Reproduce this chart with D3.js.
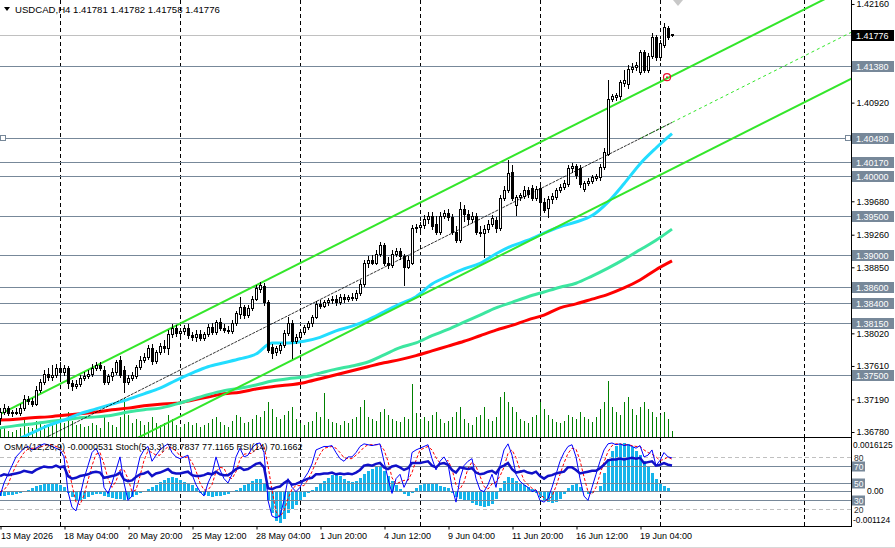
<!DOCTYPE html>
<html>
<head>
<meta charset="utf-8">
<script src="https://cdn.jsdelivr.net/npm/d3@7"></script>
<style>
  body { margin: 0; background: #fff; }
  svg { display: block; font-family: "Liberation Sans", Arial, sans-serif; font-size: 9px; }
</style>
</head>
<body>
<svg id="chart" width="895" height="548"></svg>
<script>
// ---- data ----
const symbol = 'USDCAD,H4';
const lastBar = [1.41781, 1.41782, 1.41758, 1.41776];

// H4 candles [open, high, low, close], first bar = 13 May 2026 12:00
const ohlc = [
  [1.3696,1.3708,1.3688,1.3703],[1.3703,1.3713,1.3701,1.3708],[1.3708,1.3711,1.3699,1.3702],[1.3702,1.3706,1.3698,1.3703],
  [1.3703,1.3708,1.3701,1.3702],[1.3702,1.3713,1.3699,1.3708],[1.3708,1.3725,1.3706,1.3720],[1.3720,1.3723,1.3713,1.3717],
  [1.3717,1.3721,1.3711,1.3713],[1.3713,1.3736,1.3712,1.3731],[1.3731,1.3745,1.3728,1.3741],[1.3741,1.3756,1.3738,1.3751],
  [1.3751,1.3758,1.3743,1.3747],[1.3747,1.3762,1.3743,1.3750],[1.3750,1.3763,1.3747,1.3758],[1.3758,1.3766,1.3746,1.3753],
  [1.3753,1.3762,1.3750,1.3758],[1.3758,1.3761,1.3733,1.3740],[1.3740,1.3743,1.3731,1.3736],[1.3736,1.3743,1.3733,1.3738],
  [1.3738,1.3750,1.3736,1.3746],[1.3746,1.3753,1.3743,1.3748],[1.3748,1.3756,1.3746,1.3751],[1.3751,1.3763,1.3748,1.3758],
  [1.3758,1.3766,1.3756,1.3762],[1.3762,1.3766,1.3756,1.3758],[1.3756,1.3761,1.3738,1.3741],[1.3741,1.3751,1.3738,1.3748],
  [1.3748,1.3758,1.3743,1.3753],[1.3753,1.3768,1.3751,1.3766],[1.3768,1.3774,1.3747,1.3750],[1.3756,1.3761,1.3728,1.3741],
  [1.3741,1.3750,1.3738,1.3746],[1.3746,1.3753,1.3743,1.3750],[1.3748,1.3762,1.3746,1.3760],[1.3760,1.3774,1.3757,1.3768],
  [1.3768,1.3777,1.3766,1.3772],[1.3772,1.3787,1.3770,1.3784],[1.3784,1.3789,1.3763,1.3767],[1.3767,1.3781,1.3765,1.3779],
  [1.3779,1.3790,1.3776,1.3786],[1.3786,1.3794,1.3779,1.3784],[1.3784,1.3806,1.3776,1.3801],[1.3801,1.3814,1.3797,1.3809],
  [1.3809,1.3812,1.3799,1.3802],[1.3802,1.3809,1.3800,1.3805],[1.3805,1.3812,1.3801,1.3809],[1.3809,1.3814,1.3796,1.3800],
  [1.3800,1.3804,1.3794,1.3797],[1.3797,1.3806,1.3792,1.3801],[1.3801,1.3806,1.3794,1.3796],[1.3796,1.3804,1.3794,1.3801],
  [1.3801,1.3814,1.3799,1.3810],[1.3810,1.3815,1.3801,1.3804],[1.3804,1.3819,1.3801,1.3816],[1.3816,1.3821,1.3806,1.3809],
  [1.3809,1.3814,1.3804,1.3806],[1.3806,1.3811,1.3802,1.3805],[1.3805,1.3819,1.3802,1.3815],[1.3815,1.3830,1.3812,1.3828],
  [1.3826,1.3848,1.3821,1.3835],[1.3835,1.3838,1.3821,1.3825],[1.3825,1.3838,1.3823,1.3834],[1.3834,1.3849,1.3831,1.3845],
  [1.3845,1.3863,1.3844,1.3859],[1.3858,1.3867,1.3854,1.3863],[1.3862,1.3865,1.3838,1.3841],[1.3841,1.3844,1.3779,1.3781],
  [1.3785,1.3789,1.3771,1.3777],[1.3779,1.3786,1.3775,1.3784],[1.3781,1.3790,1.3777,1.3787],[1.3787,1.3806,1.3785,1.3802],
  [1.3802,1.3823,1.3800,1.3815],[1.3815,1.3819,1.3771,1.3792],[1.3792,1.3801,1.3790,1.3797],[1.3797,1.3806,1.3795,1.3804],
  [1.3804,1.3812,1.3801,1.3810],[1.3810,1.3817,1.3807,1.3815],[1.3815,1.3825,1.3811,1.3823],[1.3823,1.3843,1.3821,1.3839],
  [1.3839,1.3844,1.3834,1.3836],[1.3836,1.3844,1.3835,1.3841],[1.3841,1.3846,1.3838,1.3844],[1.3844,1.3849,1.3840,1.3845],
  [1.3845,1.3850,1.3838,1.3841],[1.3841,1.3851,1.3839,1.3848],[1.3848,1.3851,1.3841,1.3845],[1.3845,1.3850,1.3843,1.3848],
  [1.3848,1.3853,1.3844,1.3846],[1.3846,1.3856,1.3844,1.3853],[1.3853,1.3869,1.3850,1.3864],[1.3864,1.3894,1.3862,1.3890],
  [1.3890,1.3899,1.3886,1.3894],[1.3894,1.3900,1.3889,1.3891],[1.3891,1.3907,1.3889,1.3902],[1.3902,1.3917,1.3899,1.3913],
  [1.3913,1.3915,1.3888,1.3891],[1.3891,1.3898,1.3884,1.3888],[1.3888,1.3907,1.3885,1.3902],[1.3902,1.3909,1.3899,1.3905],
  [1.3905,1.3909,1.3895,1.3899],[1.3899,1.3902,1.3863,1.3886],[1.3886,1.3899,1.3884,1.3894],[1.3891,1.3938,1.3889,1.3934],
  [1.3934,1.3939,1.3930,1.3936],[1.3936,1.3942,1.3932,1.3938],[1.3938,1.3951,1.3934,1.3946],[1.3946,1.3955,1.3941,1.3950],
  [1.3950,1.3955,1.3933,1.3937],[1.3939,1.3950,1.3927,1.3929],[1.3929,1.3955,1.3927,1.3950],[1.3950,1.3957,1.3947,1.3953],
  [1.3953,1.3958,1.3945,1.3948],[1.3948,1.3952,1.3927,1.3930],[1.3930,1.3937,1.3917,1.3919],[1.3919,1.3967,1.3917,1.3958],
  [1.3958,1.3963,1.3943,1.3952],[1.3952,1.3957,1.3939,1.3946],[1.3946,1.3955,1.3942,1.3950],[1.3950,1.3953,1.3927,1.3930],
  [1.3930,1.3937,1.3924,1.3928],[1.3928,1.3938,1.3898,1.3933],[1.3933,1.3945,1.3929,1.3939],[1.3939,1.3951,1.3937,1.3947],
  [1.3945,1.3948,1.3929,1.3934],[1.3934,1.3976,1.3932,1.3972],[1.3972,1.3987,1.3970,1.3982],[1.3982,1.4020,1.3980,1.4004],
  [1.4005,1.4014,1.3970,1.3972],[1.3963,1.3976,1.3951,1.3973],[1.3973,1.3978,1.3970,1.3976],[1.3975,1.3987,1.3972,1.3982],
  [1.3982,1.3986,1.3973,1.3977],[1.3985,1.3988,1.3970,1.3972],[1.3972,1.3987,1.3970,1.3983],[1.3985,1.3988,1.3951,1.3967],
  [1.3967,1.3972,1.3955,1.3957],[1.3960,1.3975,1.3948,1.3971],[1.3971,1.3978,1.3966,1.3975],[1.3973,1.3985,1.3971,1.3982],
  [1.3982,1.3990,1.3980,1.3986],[1.3986,1.3995,1.3983,1.3991],[1.3990,1.4014,1.3987,1.4010],[1.4010,1.4016,1.4005,1.4012],
  [1.4012,1.4015,1.3997,1.4001],[1.4010,1.4014,1.3986,1.3990],[1.3983,1.3993,1.3981,1.3991],[1.3991,1.3997,1.3988,1.3993],
  [1.3993,1.4001,1.3991,1.3998],[1.3997,1.4002,1.3995,1.4000],[1.3998,1.4015,1.3995,1.4011],[1.4011,1.4035,1.4008,1.4030],
  [1.4028,1.4120,1.4026,1.4097],[1.4097,1.4103,1.4094,1.4100],[1.4099,1.4104,1.4095,1.4102],[1.4100,1.4120,1.4097,1.4118],
  [1.4117,1.4133,1.4113,1.4120],[1.4115,1.4139,1.4110,1.4134],[1.4134,1.4142,1.4131,1.4137],[1.4137,1.4143,1.4133,1.4139],
  [1.4131,1.4158,1.4128,1.4156],[1.4156,1.4158,1.4131,1.4133],[1.4133,1.4154,1.4131,1.4151],[1.4151,1.4180,1.4148,1.4175],
  [1.4175,1.4177,1.4146,1.4149],[1.4149,1.4171,1.4146,1.4167],[1.4164,1.4192,1.4162,1.4187],[1.4186,1.4188,1.4172,1.4175],
  lastBar
];

// tick volume per bar
const volumes = [
  800,1000,600,500,700,900,1800,1000,900,1600, 1400,1200,1000,1200,1500,2200,1400,2500,1600,1200,
  1300,1000,1100,1400,1200,900,2000,1500,1200,1000, 2000,3900,2200,1400,1800,1600,1200,1500,2000,1400,
  1200,1400,2200,1800,1200,1000,1300,1500,1200,1400, 1000,1200,1400,1800,2000,1500,1200,1000,1600,2200,
  2000,1400,1500,1800,2200,2000,2600,3500,2800,2000, 1800,2200,2600,3000,1800,1400,1200,1500,1600,2500,
  2000,4400,1800,1500,1400,1200,1600,1400,1800,2000, 3000,3700,2000,1800,1600,2500,2800,2200,1800,1600,
  1500,2000,1800,5300,2400,1800,2000,1600,2200,2500, 1800,1400,1600,2000,2500,3000,1800,1400,1200,2000,
  2200,3000,1800,1600,2000,4000,4500,3500,3000,2500, 1800,1600,1400,2000,2200,3500,2800,2200,1800,1500,
  1400,1600,2200,2000,1800,2500,2000,1800,1500,2000, 2800,3500,5600,3000,2500,2200,3500,4000,2800,2200,
  3000,3500,2800,2500,2000,2200,2500,1800,600
];

// moving averages, one value every 4 bars (bars 0,4,...,168)
const maStep = 4;
const maFast = [1.3662,1.3668,1.3677,1.3686,1.3693,1.3701,1.3707,1.3713,1.3719,1.3726,1.3733,1.3743,1.3752,1.3760,1.3765,
  1.3770,1.3776,1.3790,1.3790,1.3792,1.3797,1.3805,1.3811,1.3819,1.3829,1.3839,1.3848,1.3864,1.3874,1.3883,1.3890,1.3902,
  1.3912,1.3919,1.3928,1.3936,1.3942,1.3950,1.3967,1.3990,1.4015,1.4035,1.4053];
const maMid = [1.3683,1.3686,1.3688,1.3691,1.3693,1.3696,1.3697,1.3699,1.3703,1.3706,1.3708,1.3713,1.3719,1.3725,1.3730,
  1.3733,1.3737,1.3742,1.3745,1.3747,1.3752,1.3757,1.3761,1.3766,1.3775,1.3784,1.3790,1.3799,1.3807,1.3816,1.3825,1.3834,
  1.3841,1.3848,1.3854,1.3860,1.3865,1.3874,1.3884,1.3895,1.3907,1.3919,1.3933];
const maSlow = [1.3693,1.3694,1.3696,1.3697,1.3699,1.3701,1.3703,1.3706,1.3708,1.3711,1.3713,1.3714,1.3718,1.3722,1.3726,
  1.3728,1.3732,1.3735,1.3737,1.3740,1.3745,1.3750,1.3755,1.3760,1.3765,1.3769,1.3774,1.3780,1.3786,1.3792,1.3799,1.3806,
  1.3812,1.3819,1.3825,1.3834,1.3839,1.3845,1.3851,1.3859,1.3869,1.3882,1.3893];

// equidistant channel: [bar, price] anchors
const chanUpper = [[50, 1.3827], [160, 1.41053]];
const chanMid = [[50, 1.37685], [160, 1.40468]];
const chanLower = [[50, 1.3710], [160, 1.39883]];

// horizontal levels and price scale
const levels = [1.41380, 1.40480, 1.40170, 1.40000, 1.39500, 1.39000, 1.38600, 1.38400, 1.38150, 1.37500];
const priceTicks = [1.42160, 1.40920, 1.39680, 1.39260, 1.38850, 1.38020, 1.37610, 1.37190, 1.36780];
const alertMark = [166.75, 1.4124];

// time axis
const labelBars = [0, 16, 32, 48, 64, 80, 96, 112, 128, 144, 160];
const timeLabels = ['13 May 2026', '18 May 04:00', '20 May 20:00', '25 May 12:00', '28 May 04:00', '1 Jun 20:00',
  '4 Jun 12:00', '9 Jun 04:00', '11 Jun 20:00', '16 Jun 12:00', '19 Jun 04:00'];
const weekStarts = [15, 45, 75, 105, 135, 165, 201];

// sub window: OsMA(12,26,9), Stoch(5,3,3), RSI(14)
const osma = [
  -0.00016,-0.00016,-0.00013,-0.00013,-0.00009,-0.00006,0.00000,0.00003,0.00009,0.00016,
  0.00019,0.00022,0.00022,0.00022,0.00022,0.00019,0.00013,-0.00006,-0.00019,-0.00028,
  -0.00031,-0.00025,-0.00019,-0.00013,-0.00009,-0.00009,-0.00016,-0.00019,-0.00022,-0.00025,
  -0.00025,-0.00028,-0.00025,-0.00019,-0.00013,-0.00006,0.00000,0.00006,0.00013,0.00019,
  0.00028,0.00035,0.00041,0.00044,0.00041,0.00035,0.00028,0.00025,0.00019,0.00009,
  -0.00006,-0.00013,-0.00016,-0.00019,-0.00016,-0.00016,-0.00013,-0.00009,-0.00003,0.00003,
  0.00009,0.00019,0.00025,0.00031,0.00038,0.00038,0.00025,-0.00031,-0.00069,-0.00094,
  -0.00100,-0.00088,-0.00069,-0.00057,-0.00044,-0.00031,-0.00019,-0.00006,0.00003,0.00013,
  0.00022,0.00031,0.00041,0.00050,0.00053,0.00047,0.00038,0.00031,0.00028,0.00031,
  0.00041,0.00053,0.00063,0.00069,0.00075,0.00075,0.00063,0.00047,0.00031,0.00019,
  0.00006,-0.00009,-0.00016,-0.00006,0.00009,0.00019,0.00025,0.00025,0.00025,0.00022,
  0.00016,0.00013,0.00009,-0.00006,-0.00019,-0.00025,-0.00028,-0.00031,-0.00038,-0.00044,
  -0.00047,-0.00050,-0.00047,-0.00041,-0.00025,0.00009,0.00031,0.00044,0.00041,0.00031,
  0.00025,0.00019,0.00013,0.00006,-0.00006,-0.00019,-0.00028,-0.00035,-0.00038,-0.00035,
  -0.00025,-0.00009,0.00009,0.00019,0.00022,0.00013,-0.00003,-0.00009,-0.00006,0.00000,
  0.00016,0.00057,0.00100,0.00126,0.00141,0.00148,0.00151,0.00148,0.00138,0.00126,
  0.00113,0.00094,0.00075,0.00057,0.00038,0.00025,0.00016,0.00009,-0.0000531
];
const stochMain = [
  35,50,60,70,80,85,90,92,88,90, 93,95,94,92,90,88,80,40,22,18, 35,55,70,85,90,80,45,38,50,65,
  80,50,30,35,60,80,88,92,75,82, 88,92,95,85,80,78,80,82,60,48, 40,35,50,60,80,65,55,50,60,80,
  90,80,82,90,95,96,85,30,12,10, 12,30,55,45,40,45,55,62,72,88, 90,92,92,93,85,78,75,80,80,85,
  92,95,94,93,94,95,75,55,38,55, 60,45,55,85,88,90,92,94,78,65, 75,80,72,45,28,55,70,75,78,55,
  42,40,48,60,45,70,88,95,82,60, 52,48,45,40,42,30,28,32,45,60, 75,85,92,94,80,55,35,30,45,60,
  75,88,95,96,94,95,93,94,92,90, 93,80,82,88,70,76,85,80,78.7837
];
const stochSignal = [
  40,42,48,60,70,78,85,89,90,90, 91,93,94,94,92,90,86,70,48,28, 25,36,53,70,83,85,72,55,45,52,
  65,65,55,40,42,58,76,87,85,82, 82,87,92,90,87,81,79,80,74,64, 50,42,42,48,63,68,67,57,55,63,
  77,83,84,84,89,94,92,70,42,17, 11,18,32,43,47,47,47,54,63,74, 83,90,91,92,90,85,79,78,78,82,
  86,91,94,94,94,94,88,75,56,49, 51,53,53,62,76,88,90,92,88,79, 73,73,76,66,48,43,51,67,74,69,
  58,46,43,49,51,58,68,84,88,79, 65,53,48,44,42,37,33,30,35,46, 60,73,84,90,89,76,57,40,37,45,
  60,74,86,93,95,95,94,94,93,92, 92,88,85,83,80,76,77,80,77.1165
];
const rsi = [
  58,60,59,60,61,62,64,63,62,65, 67,69,68,68,70,68,69,58,55,56, 58,59,60,62,63,62,56,57,58,59,
  62,54,52,53,57,60,61,63,58,61, 62,64,66,62,61,61,62,63,59,58, 58,59,61,60,63,60,59,59,62,66,
  68,65,66,69,72,73,68,44,43,45, 46,50,53,48,49,51,53,55,56,60, 60,61,61,62,60,61,60,61,60,62,
  65,70,71,70,72,73,68,66,69,70, 68,65,67,73,73,73,74,75,70,68, 72,73,71,65,62,68,67,66,67,62,
  60,61,63,64,61,68,70,73,66,62, 63,64,62,61,63,58,55,58,59,61, 62,63,68,68,65,61,62,63,64,64,
  67,71,76,77,77,78,77,78,79,78, 79,73,74,75,70,71,73,71,70.1662
];
const oscLevels = [80, 70, 50, 30, 20];
const osmaRange = [-0.001124, 0.0016125];

// ---- layout ----
const W = 895, H = 548;
const plotR = 851, mainBot = 437, subTop = 439.5, subBot = 526.5;

const svg = d3.select('#chart');
svg.append('rect').attr('width', W).attr('height', H).attr('fill', '#fff');

const x = d3.scaleLinear().domain([0, 212.75]).range([0, plotR]);
const y = d3.scaleLinear().domain([1.36717, 1.42210]).range([mainBot, 0]);
const yVol = d3.scaleLinear().domain([0, d3.max(volumes)]).range([mainBot, mainBot - 56]);
const yOsc = d3.scaleLinear().domain([0, 100]).range([subBot, subTop]);
const yOsma = d3.scaleLinear().domain(osmaRange).range([subBot, subTop]);
const px = v => Math.round(v);

svg.append('clipPath').attr('id', 'mainClip')
  .append('rect').attr('x', 0).attr('y', 0).attr('width', plotR).attr('height', mainBot);
svg.append('clipPath').attr('id', 'subClip')
  .append('rect').attr('x', 0).attr('y', 438).attr('width', plotR).attr('height', 88);

const main = svg.append('g').attr('clip-path', 'url(#mainClip)');
const sub = svg.append('g').attr('clip-path', 'url(#subClip)');

// week separators
[[main, 0, mainBot], [sub, 438, 526]].forEach(([g, y0, y1]) => {
  g.selectAll(null).data(weekStarts).enter().append('line')
    .attr('x1', d => px(x(d)) + 0.5).attr('x2', d => px(x(d)) + 0.5)
    .attr('y1', y0).attr('y2', y1)
    .attr('stroke', '#000').attr('stroke-dasharray', '4,3');
});

// horizontal levels
main.append('line')
  .attr('x1', 0).attr('x2', plotR).attr('y1', px(y(lastBar[3])) + 0.5).attr('y2', px(y(lastBar[3])) + 0.5)
  .attr('stroke', '#c0c0c0');
main.selectAll('line.level').data(levels).enter().append('line').attr('class', 'level')
  .attr('x1', 0).attr('x2', plotR)
  .attr('y1', d => px(y(d)) + 0.5).attr('y2', d => px(y(d)) + 0.5)
  .attr('stroke', '#778899');

// volumes
main.selectAll('rect.vol').data(volumes).enter().append('rect').attr('class', 'vol')
  .attr('x', (d, i) => px(x(i))).attr('width', 1)
  .attr('y', d => px(yVol(d))).attr('height', d => mainBot - px(yVol(d)))
  .attr('fill', '#008000');

// moving averages
const maLine = d3.line().x((d, i) => x(i * maStep)).y(d => y(d)).curve(d3.curveMonotoneX);
[[maSlow, '#ff0000'], [maMid, '#3ce6a0'], [maFast, '#22ddff']].forEach(([s, c]) => {
  main.append('path').attr('d', maLine(s)).attr('fill', 'none')
    .attr('stroke', c).attr('stroke-width', 3);
});

// channel
function chanAt(a, bar) {
  const k = (a[1][1] - a[0][1]) / (a[1][0] - a[0][0]);
  return a[0][1] + k * (bar - a[0][0]);
}
function chanSeg(a, b0, b1) {
  return [[x(b0), y(chanAt(a, b0))], [x(b1), y(chanAt(a, b1))]];
}
const seg = d3.line();
[chanUpper, chanLower].forEach(a => {
  main.append('path').attr('d', seg(chanSeg(a, -20, 220)))
    .attr('stroke', '#33e62a').attr('stroke-width', 2).attr('fill', 'none');
});
main.append('path').attr('d', seg(chanSeg(chanMid, 160, 220)))
  .attr('stroke', '#33e62a').attr('stroke-dasharray', '3,3').attr('fill', 'none');
main.append('path').attr('d', seg(chanSeg(chanMid, -20, 168)))
  .attr('stroke', '#000').attr('stroke-width', 0.8).attr('stroke-dasharray', '3,1').attr('fill', 'none');

// candles
const candles = main.selectAll('g.candle').data(ohlc).enter().append('g').attr('class', 'candle');
candles.append('rect')
  .attr('x', (d, i) => px(x(i))).attr('width', 1)
  .attr('y', d => px(y(d[1]))).attr('height', d => Math.max(1, px(y(d[2])) - px(y(d[1])) + 1))
  .attr('fill', '#000');
candles.append('rect')
  .attr('x', (d, i) => px(x(i)) - 1).attr('width', 3)
  .attr('y', d => px(y(Math.max(d[0], d[3]))))
  .attr('height', d => Math.max(1, px(y(Math.min(d[0], d[3]))) - px(y(Math.max(d[0], d[3]))) + 1))
  .attr('fill', '#000');
candles.filter(d => d[3] > d[0] && px(y(d[0])) - px(y(d[3])) > 1).append('rect')
  .attr('x', function () { return +d3.select(this.parentNode).select('rect').attr('x'); })
  .attr('width', 1)
  .attr('y', d => px(y(d[3])) + 1)
  .attr('height', d => px(y(d[0])) - px(y(d[3])) - 1)
  .attr('fill', '#fff');

// alert mark and object handles
main.append('circle').attr('cx', x(alertMark[0])).attr('cy', y(alertMark[1])).attr('r', 3.5)
  .attr('fill', 'none').attr('stroke', '#e8102a').attr('stroke-width', 1.2);
main.append('circle').attr('cx', x(alertMark[0])).attr('cy', y(alertMark[1])).attr('r', 1)
  .attr('fill', '#e8102a');
[0, plotR - 6].forEach(hx => {
  svg.append('rect').attr('x', hx + 0.5).attr('y', px(y(levels[1])) - 2.5).attr('width', 5).attr('height', 5)
    .attr('fill', '#fff').attr('stroke', '#778899');
});
svg.append('path')
  .attr('d', `M${x(169.5) - 5},0 L${x(169.5) + 5},0 L${x(169.5)},6 Z`).attr('fill', '#c8c8c8');

// header
svg.append('path').attr('d', 'M4,7 L10,7 L7,11 Z').attr('fill', '#000');
svg.append('text').attr('x', 15).attr('y', 13).attr('font-size', 9.6)
  .text(`${symbol}  ${lastBar.map(d => d.toFixed(5)).join(' ')}`);

// price axis
const axisY = svg.append('g').attr('transform', `translate(${plotR + 0.5},0)`)
  .call(d3.axisRight(y).tickValues(priceTicks).tickSize(3).tickPadding(2).tickFormat(d3.format('.5f')));
axisY.select('.domain').remove();
axisY.selectAll('text').attr('font-size', 9).attr('font-family', null).attr('fill', '#000');

// level tags on the axis
const tags = svg.append('g');
levels.forEach(l => {
  const ly = px(y(l));
  tags.append('rect').attr('x', plotR + 1).attr('y', ly - 5).attr('width', 42).attr('height', 11).attr('fill', '#778899');
  tags.append('text').attr('x', plotR + 5).attr('y', ly + 3.5).attr('fill', '#fff').text(l.toFixed(5));
});
const ly0 = px(y(lastBar[3]));
tags.append('rect').attr('x', plotR + 1).attr('y', ly0 - 5).attr('width', 42).attr('height', 11).attr('fill', '#000');
tags.append('text').attr('x', plotR + 5).attr('y', ly0 + 3.5).attr('fill', '#fff').text(lastBar[3].toFixed(5));

// ---- sub window ----
sub.selectAll('rect.osma').data(osma).enter().append('rect').attr('class', 'osma')
  .attr('x', (d, i) => px(x(i)) - 1).attr('width', 3)
  .attr('y', d => Math.min(px(yOsma(d)), px(yOsma(0))))
  .attr('height', d => Math.max(1, Math.abs(px(yOsma(d)) - px(yOsma(0)))))
  .attr('fill', '#16b4ea');

oscLevels.forEach(v => {
  const dashed = v === 80 || v === 20;
  sub.append('line').attr('x1', 0).attr('x2', plotR)
    .attr('y1', px(yOsc(v)) + 0.5).attr('y2', px(yOsc(v)) + 0.5)
    .attr('stroke', dashed ? '#c0c0c0' : '#778899').attr('stroke-dasharray', dashed ? '4,3' : null);
});
sub.append('line').attr('x1', 0).attr('x2', plotR)
  .attr('y1', px(yOsma(0)) + 0.5).attr('y2', px(yOsma(0)) + 0.5).attr('stroke', '#778899');

const oscLine = d3.line().x((d, i) => x(i)).y(d => yOsc(d));
sub.append('path').attr('d', oscLine(stochSignal)).attr('fill', 'none')
  .attr('stroke', '#ff0000').attr('stroke-dasharray', '3,2');
sub.append('path').attr('d', oscLine(stochMain)).attr('fill', 'none').attr('stroke', '#0000ff');
sub.append('path').attr('d', oscLine(rsi)).attr('fill', 'none')
  .attr('stroke', '#1010c8').attr('stroke-width', 2.5);

svg.append('text').attr('x', 4).attr('y', 450)
  .text(`OsMA(12,26,9) ${osma[osma.length - 1].toFixed(7)}   Stoch(5,3,3) ${stochMain[stochMain.length - 1].toFixed(4)} ${stochSignal[stochSignal.length - 1].toFixed(4)}   RSI(14) ${rsi[rsi.length - 1].toFixed(4)}`);

// sub window scale labels
const subTags = svg.append('g');
subTags.append('text').attr('x', plotR + 2).attr('y', 448).attr('font-size', 8.4).text(String(osmaRange[1]));
subTags.append('text').attr('x', plotR + 2).attr('y', 523).attr('font-size', 8.4).text(String(osmaRange[0]));
oscLevels.forEach(v => {
  const ly = px(yOsc(v));
  if (v === 80 || v === 20) {
    subTags.append('text').attr('x', plotR + 3).attr('y', ly + 3.5).attr('font-size', 8.5).attr('fill', '#333').text(v);
  } else {
    subTags.append('rect').attr('x', plotR + 1).attr('y', ly - 4.5).attr('width', 13).attr('height', 10).attr('fill', '#778899');
    subTags.append('text').attr('x', plotR + 3).attr('y', ly + 3.5).attr('font-size', 8.5).attr('fill', '#fff').text(v);
  }
});
// zero label sits just right of the level tags
subTags.append('text').attr('x', plotR + 16).attr('y', px(yOsma(0)) + 3).attr('font-size', 8.5).text('0.00');

// frame
svg.append('line').attr('x1', 0).attr('x2', plotR + 1).attr('y1', mainBot + 0.5).attr('y2', mainBot + 0.5).attr('stroke', '#000');
svg.append('line').attr('x1', 0).attr('x2', plotR + 1).attr('y1', 526.5).attr('y2', 526.5).attr('stroke', '#000');
svg.append('line').attr('x1', plotR + 0.5).attr('x2', plotR + 0.5).attr('y1', 0).attr('y2', 527).attr('stroke', '#000');
svg.append('line').attr('x1', 0).attr('x2', W).attr('y1', 547.5).attr('y2', 547.5).attr('stroke', '#d8d8d8');

// time axis
const axisX = svg.append('g').attr('transform', 'translate(0.5,526.5)')
  .call(d3.axisBottom(x).tickValues(labelBars).tickSize(3).tickPadding(3)
    .tickFormat((d, i) => timeLabels[i]));
axisX.select('.domain').remove();
axisX.selectAll('text').attr('text-anchor', 'start').attr('x', (d, i) => i === 0 ? 0 : -1)
  .attr('font-size', 9).attr('font-family', null).attr('fill', '#000');
</script>
</body>
</html>
